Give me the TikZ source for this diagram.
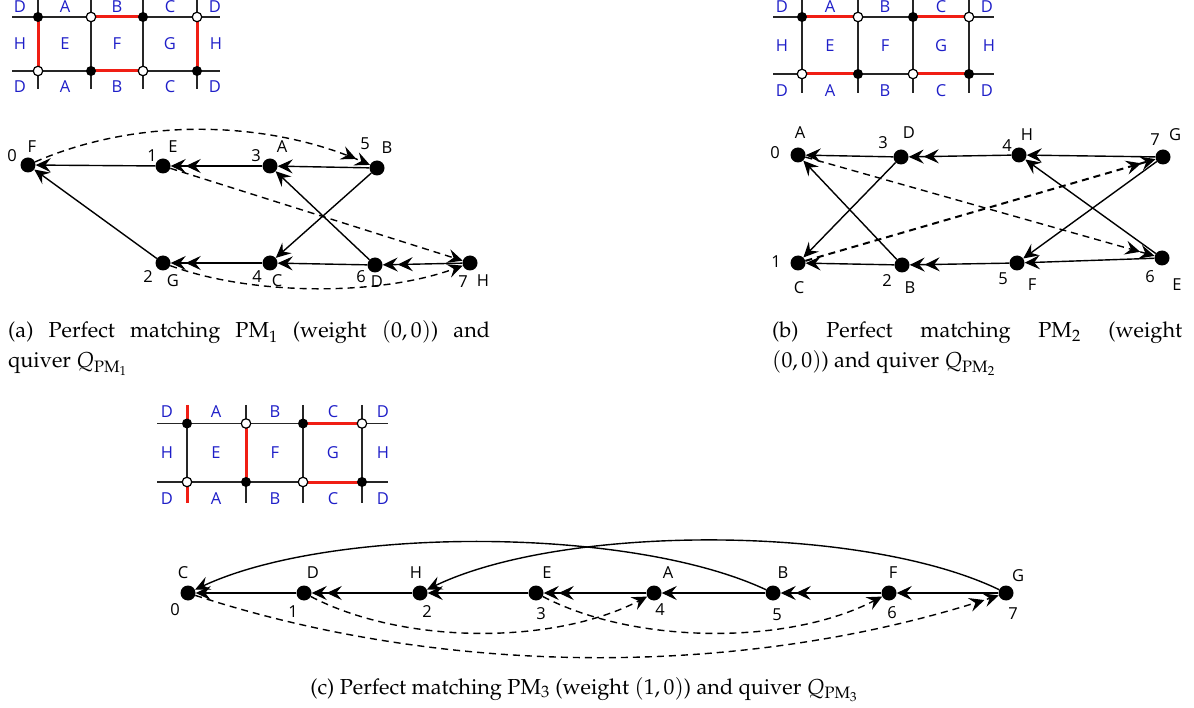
\documentclass[tikz,border=0pt]{standalone}
\usepackage{mathpazo}
\usepackage[no-math]{fontspec}
\newfontfamily\lab{Open Sans}
\usetikzlibrary{arrows.meta}
\definecolor{tblue}{RGB}{30,30,200}
\definecolor{tred}{RGB}{240,30,20}
\newcommand{\capfont}{\fontencoding{OT1}\fontfamily{ppl}\fontsize{21.7}{30}\selectfont}
\begin{document}
\begin{tikzpicture}[x=1pt,y=-1pt,
  gline/.style={line width=1.8pt, black!85},
  rline/.style={line width=3pt, tred},
  bv/.style={circle, fill=black, inner sep=0pt, minimum size=10pt},
  wv/.style={circle, draw=black, fill=white, line width=1.2pt, inner sep=0pt, minimum size=9.5pt},
  gl/.style={font=\lab\fontsize{16.5}{16.5}\selectfont, text=tblue, inner sep=0pt},
  qv/.style={circle, fill=black, inner sep=0pt, minimum size=15pt},
  ql/.style={font=\lab\fontsize{16.5}{16.5}\selectfont, inner sep=0pt},
  ar/.style={line width=1.4pt, -{Stealth[length=15pt,width=14pt,inset=5.5pt]}},
  ar2/.style={line width=1.4pt, -{Stealth[length=15pt,width=14pt,inset=5.5pt] Stealth[length=15pt,width=14pt,inset=5.5pt]}},
  dsh/.style={dash pattern=on 7pt off 5pt},
  captext/.style={inner sep=0pt}
]
\useasboundingbox (0,0) rectangle (1194,708);

% ---------- grid (a)
\foreach \y in {17,71} \draw[gline] (12,\y) -- (220,\y);
\foreach \x in {38,91,143,197} \draw[gline] (\x,0) -- (\x,89);
\draw[rline] (38,17) -- (38,71) (91,17) -- (143,17) (91,71) -- (143,71) (197,17) -- (197,71);
\foreach \x/\y in {38/17,143/17,91/71,197/71} \node[bv] (gab\x\y) at (\x,\y) {};
\foreach \x/\y in {91/17,197/17,38/71,143/71} \node[wv] (gaw\x\y) at (\x,\y) {};
\foreach \x/\t in {20/D,65/A,117/B,170/C,215/D} \node[gl] (gat\x) at (\x,7) {\t};
\foreach \x/\t in {20/H,65/E,117/F,170/G,216/H} \node[gl] (gam\x) at (\x,44) {\t};
\foreach \x/\t in {20/D,65/A,117/B,170/C,215/D} \node[gl] (gab\x) at (\x,87) {\t};

% ---------- grid (b)
\foreach \y in {17,74} \draw[gline] (773,\y) -- (994,\y);
\foreach \x in {802,858,913,969} \draw[gline] (\x,0) -- (\x,93);
\draw[rline] (802,17) -- (858,17) (913,17) -- (969,17) (802,74) -- (858,74) (913,74) -- (969,74);
\foreach \x/\y in {802/17,913/17,858/74,969/74} \node[bv] (gbb\x\y) at (\x,\y) {};
\foreach \x/\y in {858/17,969/17,802/74,913/74} \node[wv] (gbw\x\y) at (\x,\y) {};
\foreach \x/\t in {782/D,830/A,885/B,941/C,987/D} \node[gl] (gbt\x) at (\x,7) {\t};
\foreach \x/\t in {782/H,830/E,885/F,941/G,989/H} \node[gl] (gbm\x) at (\x,46) {\t};
\foreach \x/\t in {782/D,830/A,885/B,941/C,987/D} \node[gl] (gbl\x) at (\x,91) {\t};

% ---------- grid (c)
\foreach \y in {423.5,482} \draw[gline] (157,\y) -- (388,\y);
\foreach \x in {187,246,303,362} \draw[gline] (\x,405) -- (\x,503);
\draw[rline] (187,405) -- (187,423.5) (187,482) -- (187,503) (246,423.5) -- (246,482)
  (303,423.5) -- (362,423.5) (303,482) -- (362,482);
\foreach \x/\y in {187/423.5,303/423.5,246/482,362/482} \node[bv] (gcb\x) at (\x,\y) {};
\foreach \x/\y in {246/423.5,362/423.5,187/482,303/482} \node[wv] (gcw\x) at (\x,\y) {};
\foreach \x/\t in {167/D,216/A,275/B,333/C,383/D} \node[gl] (gct\x) at (\x,412) {\t};
\foreach \x/\t in {167/H,216/E,275/F,333/G,383/H} \node[gl] (gcm\x) at (\x,453) {\t};
\foreach \x/\t in {167/D,216/A,275/B,333/C,383/D} \node[gl] (gcl\x) at (\x,499) {\t};

% ---------- quiver (a)
\node[qv] (a0) at (28,165) {};
\node[qv] (a1) at (163,166) {};
\node[qv] (a3) at (270,166) {};
\node[qv] (a5) at (377,168) {};
\node[qv] (a2) at (163,263) {};
\node[qv] (a4) at (270,263) {};
\node[qv] (a6) at (375,265) {};
\node[qv] (a7) at (470,263) {};
\node[ql] (la0) at (12,156) {0}; \node[ql] (laF) at (32,147) {F};
\node[ql] (la1) at (152,156) {1}; \node[ql] (laE) at (173,147) {E};
\node[ql] (la3) at (256,156) {3}; \node[ql] (laA) at (282,147) {A};
\node[ql] (la5) at (365,144) {5}; \node[ql] (laB) at (387,148) {B};
\node[ql] (la2) at (148,277) {2}; \node[ql] (laG) at (173,281) {G};
\node[ql] (la4) at (257,277) {4}; \node[ql] (laC) at (277,281) {C};
\node[ql] (la6) at (361,277) {6}; \node[ql] (laD) at (377,282) {D};
\node[ql] (la7) at (463,282) {7}; \node[ql] (laH) at (483,281) {H};
\draw[ar] (a1) -- (a0);
\draw[ar2] (a3) -- (a1);
\draw[ar] (a5) -- (a3);
\draw[ar] (a2) -- (a0);
\draw[ar2] (a4) -- (a2);
\draw[ar] (a6) -- (a4);
\draw[ar2] (a7) -- (a6);
\draw[ar] (a5) -- (a4);
\draw[ar] (a6) -- (a3);
\draw[ar2,dsh] (a0) .. controls +(110,-48) and +(-110,-48) .. (a5);
\draw[ar,dsh] (a1) -- (a7);
\draw[ar,dsh] (a2) .. controls +(90,33) and +(-90,33) .. (a7);

% ---------- quiver (b)
\node[qv] (b0) at (798,155) {};
\node[qv] (b3) at (901,157) {};
\node[qv] (b4) at (1019,155) {};
\node[qv] (b7) at (1163,157) {};
\node[qv] (b1) at (798,263) {};
\node[qv] (b2) at (902,265) {};
\node[qv] (b5) at (1017,263) {};
\node[qv] (b6) at (1162,258) {};
\node[ql] (lbA) at (800,133) {A}; \node[ql] (lb0) at (775,153) {0};
\node[ql] (lb3) at (883,143) {3}; \node[ql] (lbD) at (909,133) {D};
\node[ql] (lb4) at (1007,146) {4}; \node[ql] (lbH) at (1027,135) {H};
\node[ql] (lb7) at (1155,140) {7}; \node[ql] (lbG) at (1175,135) {G};
\node[ql] (lb1) at (776,262) {1}; \node[ql] (lbC) at (799,288) {C};
\node[ql] (lb2) at (887,281) {2}; \node[ql] (lbB) at (910,288) {B};
\node[ql] (lb5) at (1003,279) {5}; \node[ql] (lbF) at (1032,285) {F};
\node[ql] (lb6) at (1150,277) {6}; \node[ql] (lbE) at (1177,285) {E};
\draw[ar] (b3) -- (b0);
\draw[ar2] (b4) -- (b3);
\draw[ar] (b7) -- (b4);
\draw[ar] (b2) -- (b1);
\draw[ar2] (b5) -- (b2);
\draw[ar] (b6) -- (b5);
\draw[ar] (b3) -- (b1);
\draw[ar] (b2) -- (b0);
\draw[ar] (b7) -- (b5);
\draw[ar] (b6) -- (b4);
\draw[ar2,dsh] (b0) -- (b6);
\draw[ar2,dsh,line width=2pt] (b1) -- (b7);

% ---------- quiver (c)
\node[qv] (c0) at (188,593) {};
\node[qv] (c1) at (304,593) {};
\node[qv] (c2) at (420,593) {};
\node[qv] (c3) at (536,593) {};
\node[qv] (c4) at (654,593) {};
\node[qv] (c5) at (773,593) {};
\node[qv] (c6) at (889,593) {};
\node[qv] (c7) at (1006,593) {};
\node[ql] (lcC) at (183,573) {C}; \node[ql] (lc0) at (175,610) {0};
\node[ql] (lcD) at (313,573) {D}; \node[ql] (lc1) at (293,612) {1};
\node[ql] (lcH) at (416,573) {H}; \node[ql] (lc2) at (427,612) {2};
\node[ql] (lcE) at (547,573) {E}; \node[ql] (lc3) at (541,614) {3};
\node[ql] (lcA) at (668,573) {A}; \node[ql] (lc4) at (660,610) {4};
\node[ql] (lcB) at (783,573) {B}; \node[ql] (lc5) at (777,615) {5};
\node[ql] (lcF) at (893,573) {F}; \node[ql] (lc6) at (892,613) {6};
\node[ql] (lcG) at (1018,576) {G}; \node[ql] (lc7) at (1013,614) {7};
\draw[ar] (c1) -- (c0);
\draw[ar2] (c2) -- (c1);
\draw[ar] (c3) -- (c2);
\draw[ar2] (c4) -- (c3);
\draw[ar] (c5) -- (c4);
\draw[ar2] (c6) -- (c5);
\draw[ar] (c7) -- (c6);
\draw[ar] (c5) .. controls +(-143,-67) and +(143,-67) .. (c0);
\draw[ar] (c7) .. controls +(-143,-69) and +(143,-69) .. (c2);
\draw[ar,dsh] (c1) .. controls +(100,52) and +(-100,52) .. (c4);
\draw[ar,dsh] (c3) .. controls +(100,52) and +(-100,52) .. (c6);
\draw[ar2,dsh] (c0) .. controls +(260,85) and +(-260,85) .. (c7);

% ---------- captions
\node[captext, anchor=base west] (capa) at (8,338) {\parbox[t]{482pt}{\capfont (a) Perfect matching PM$_1$ (weight $(0,0)$) and\linebreak quiver $Q_{\mathrm{PM}_1}$}};
\node[captext, anchor=base west] (capb) at (772,338) {\parbox[t]{410pt}{\capfont (b) Perfect matching PM$_2$ (weight\linebreak $(0,0)$) and quiver $Q_{\mathrm{PM}_2}$}};
\node[captext, anchor=base] (capc) at (584,694) {\capfont (c) Perfect matching PM$_3$ (weight $(1,0)$) and quiver $Q_{\mathrm{PM}_3}$};
\end{tikzpicture}
\end{document}
